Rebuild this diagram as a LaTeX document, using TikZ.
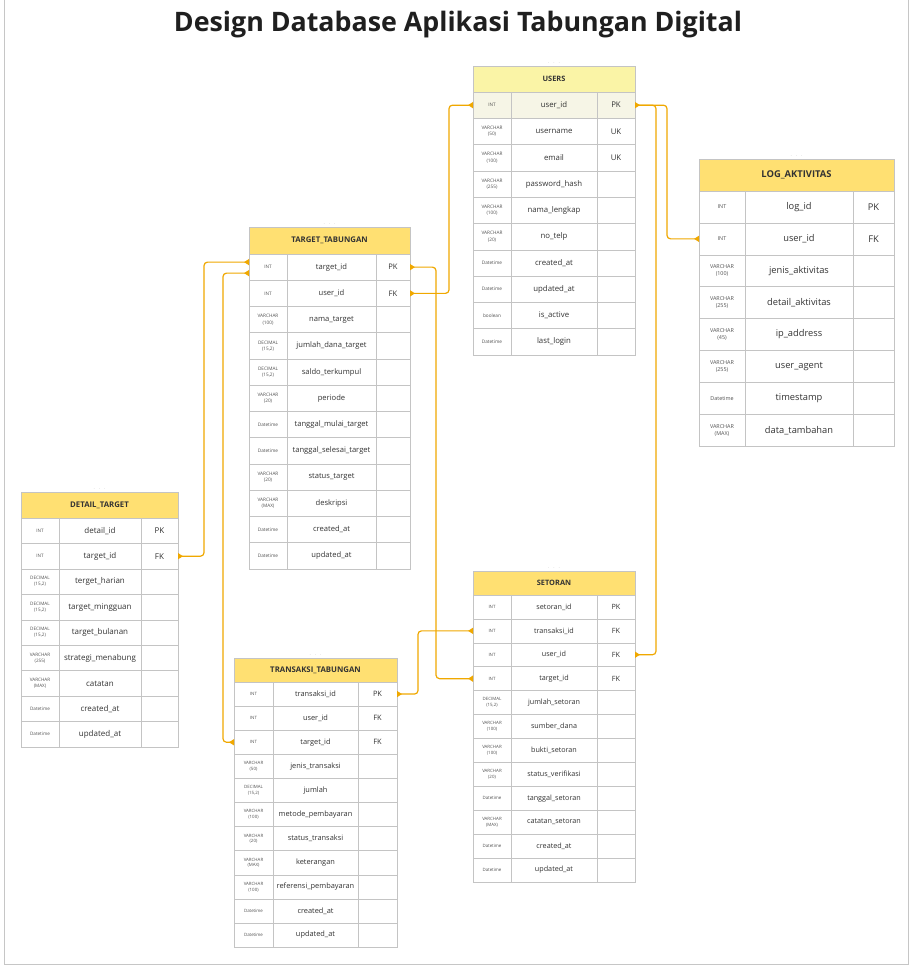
\documentclass[tikz,border=0pt]{standalone}
\usepackage{fontspec}
\setmainfont{Open Sans}
\usetikzlibrary{arrows.meta,calc}
\definecolor{linec}{HTML}{F0A800}
\definecolor{headc}{HTML}{FFE072}
\definecolor{headu}{HTML}{FAF4A6}
\definecolor{hlrow}{HTML}{F6F5E6}
\definecolor{gridc}{HTML}{C4C4C4}
\definecolor{txtc}{HTML}{333333}
\newcommand\dec{DECIMAL\\(15,2)}
\tikzset{
  headbox/.style={draw=gridc, line width=0.6pt, inner sep=0pt, outer sep=0pt, text=txtc, font=\hfont},
  rowbox/.style={draw=gridc, line width=0.6pt, inner sep=0pt, outer sep=0pt},
  gridl/.style={draw=gridc, line width=0.6pt},
  typet/.style={inner sep=0pt, align=center, text=txtc!85, font=\tfont},
  namet/.style={inner sep=0pt, text=txtc, font=\nfont},
  dotsnode/.style={inner sep=0pt, text=gray!70, font=\fontsize{4}{4}\selectfont},
  conn/.style={draw=linec, line width=1.2pt, rounded corners=3.5pt,
    {Triangle[reversed,length=5pt,width=6pt]}-{Triangle[reversed,length=5pt,width=6pt]}},
  conn1/.style={draw=linec, line width=1.2pt, rounded corners=3.5pt,
    -{Triangle[reversed,length=5pt,width=6pt]}},
}
\newcommand\erd[4]{%
  \pgfmathsetmacro\tw{\wa+\wb+\wc}%
  \node[headbox, fill=#3, minimum width=\tw pt, minimum height=\hh pt, anchor=north west] (#1-h) at (\tx,\ty) {#2};
  \node[dotsnode] (#1-dots) at (\tx+\tw/2,\ty-3) {$\cdot\,\cdot\,\cdot$};
  \foreach \ctype/\cname/\ckey [count=\ci] in {#4}{%
    \pgfmathsetmacro\rt{\ty+\hh+(\ci-1)*\rh}%
    \node[rowbox, minimum width=\tw pt, minimum height=\rh pt, anchor=north west] (#1-\ci) at (\tx,\rt) {};
    \draw[gridl] (\tx+\wa,\rt) -- ++(0,\rh);
    \draw[gridl] (\tx+\wa+\wb,\rt) -- ++(0,\rh);
    \node[typet] (#1-\ci-t) at (\tx+\wa/2,\rt+\rh/2) {\ctype};
    \node[namet] (#1-\ci-n) at (\tx+\wa+\wb/2,\rt+\rh/2) {\cname};
    \node[namet] (#1-\ci-k) at (\tx+\wa+\wb+\wc/2,\rt+\rh/2) {\ckey};
  }%
}
\begin{document}
\begin{tikzpicture}[x=1pt,y=-1pt]
\useasboundingbox (0,0) rectangle (913,969);
\fill[white] (0,0) rectangle (913,969);
\draw[gray!45, line width=0.8pt] (4,0) -- (4,964) -- (908,964) -- (908,0);
\node[text=black!88, font=\fontsize{26.8}{30}\selectfont\bfseries] (title) at (458,25) {Design Database Aplikasi Tabungan Digital};

% USERS
\fill[hlrow] (473,92) rectangle (635,118.3);
\def\tx{473}\def\ty{66}\def\wa{38}\def\wb{86}\def\wc{38}\def\hh{26}\def\rh{26.3}
\def\hfont{\fontsize{7.4}{8}\selectfont\bfseries}\def\tfont{\fontsize{4.7}{6.2}\selectfont}\def\nfont{\fontsize{7.8}{9}\selectfont}
\erd{users}{USERS}{headu}{INT/user\_id/PK, VARCHAR\\(50)/username/UK, VARCHAR\\(100)/email/UK, VARCHAR\\(255)/password\_hash/, VARCHAR\\(100)/nama\_lengkap/, VARCHAR\\(20)/no\_telp/, Datetime/created\_at/, Datetime/updated\_at/, boolean/is\_active/, Datetime/last\_login/}

% TARGET_TABUNGAN
\def\tx{249}\def\ty{227}\def\wa{38}\def\wb{89}\def\wc{34}\def\hh{27}\def\rh{26.25}
\def\hfont{\fontsize{7.8}{8}\selectfont\bfseries}\def\tfont{\fontsize{4.7}{6.2}\selectfont}\def\nfont{\fontsize{7.6}{9}\selectfont}
\erd{target}{TARGET\_TABUNGAN}{headc}{INT/target\_id/PK, INT/user\_id/FK, VARCHAR\\(100)/nama\_target/, \dec/jumlah\_dana\_target/, \dec/saldo\_terkumpul/, VARCHAR\\(20)/periode/, Datetime/tanggal\_mulai\_target/, Datetime/tanggal\_selesai\_target/, VARCHAR\\(20)/status\_target/, VARCHAR\\(MAX)/deskripsi/, Datetime/created\_at/, Datetime/updated\_at/}

% LOG_AKTIVITAS
\def\tx{699}\def\ty{159}\def\wa{46}\def\wb{108}\def\wc{41}\def\hh{32}\def\rh{31.9}
\def\hfont{\fontsize{9.4}{10}\selectfont\bfseries}\def\tfont{\fontsize{5.4}{7.2}\selectfont}\def\nfont{\fontsize{9.3}{11}\selectfont}
\erd{log}{LOG\_AKTIVITAS}{headc}{INT/log\_id/PK, INT/user\_id/FK, VARCHAR\\(100)/jenis\_aktivitas/, VARCHAR\\(255)/detail\_aktivitas/, VARCHAR\\(45)/ip\_address/, VARCHAR\\(255)/user\_agent/, Datetime/timestamp/, VARCHAR\\(MAX)/data\_tambahan/}

% DETAIL_TARGET
\def\tx{21}\def\ty{492}\def\wa{38}\def\wb{82}\def\wc{37}\def\hh{26}\def\rh{25.45}
\def\hfont{\fontsize{7.8}{8}\selectfont\bfseries}\def\tfont{\fontsize{4.6}{6}\selectfont}\def\nfont{\fontsize{8}{9}\selectfont}
\erd{detail}{DETAIL\_TARGET}{headc}{INT/detail\_id/PK, INT/target\_id/FK, \dec/terget\_harian/, \dec/target\_mingguan/, \dec/target\_bulanan/, VARCHAR\\(255)/strategi\_menabung/, VARCHAR\\(MAX)/catatan/, Datetime/created\_at/, Datetime/updated\_at/}

% TRANSAKSI_TABUNGAN
\def\tx{234}\def\ty{658}\def\wa{39}\def\wb{85}\def\wc{39}\def\hh{24}\def\rh{24.1}
\def\hfont{\fontsize{7.8}{8}\selectfont\bfseries}\def\tfont{\fontsize{4.4}{5.8}\selectfont}\def\nfont{\fontsize{7.4}{9}\selectfont}
\erd{trans}{TRANSAKSI\_TABUNGAN}{headc}{INT/transaksi\_id/PK, INT/user\_id/FK, INT/target\_id/FK, VARCHAR\\(50)/jenis\_transaksi/, \dec/jumlah/, VARCHAR\\(100)/metode\_pembayaran/, VARCHAR\\(20)/status\_transaksi/, VARCHAR\\(MAX)/keterangan/, VARCHAR\\(100)/referensi\_pembayaran/, Datetime/created\_at/, Datetime/updated\_at/}

% SETORAN
\def\tx{473}\def\ty{571}\def\wa{38}\def\wb{86}\def\wc{38}\def\hh{24}\def\rh{23.9}
\def\hfont{\fontsize{7.4}{8}\selectfont\bfseries}\def\tfont{\fontsize{4.4}{5.8}\selectfont}\def\nfont{\fontsize{7.2}{9}\selectfont}
\erd{setoran}{SETORAN}{headc}{INT/setoran\_id/PK, INT/transaksi\_id/FK, INT/user\_id/FK, INT/target\_id/FK, \dec/jumlah\_setoran/, VARCHAR\\(100)/sumber\_dana/, VARCHAR\\(100)/bukti\_setoran/, VARCHAR\\(20)/status\_verifikasi/, Datetime/tanggal\_setoran/, VARCHAR\\(MAX)/catatan\_setoran/, Datetime/created\_at/, Datetime/updated\_at/}

% connectors
\draw[conn] (target-2.east) -- ++(39,0) |- (users-1.west);
\draw[conn] (users-1.east) -- ++(32,0) |- (log-2.west);
\draw[conn1] (users-1.east) -- ++(21,0) |- (setoran-3.east);
\draw[conn] (target-1.east) -- ++(26,0) |- (setoran-4.west);
\draw[conn] ($(target-1.west)+(0,-5)$) -- ++(-45,0) |- (detail-2.east);
\draw[conn] ($(target-1.west)+(0,6)$) -- ++(-26,0) |- (trans-3.west);
\draw[conn] (trans-1.east) -- ++(21,0) |- (setoran-2.west);
\end{tikzpicture}
\end{document}
